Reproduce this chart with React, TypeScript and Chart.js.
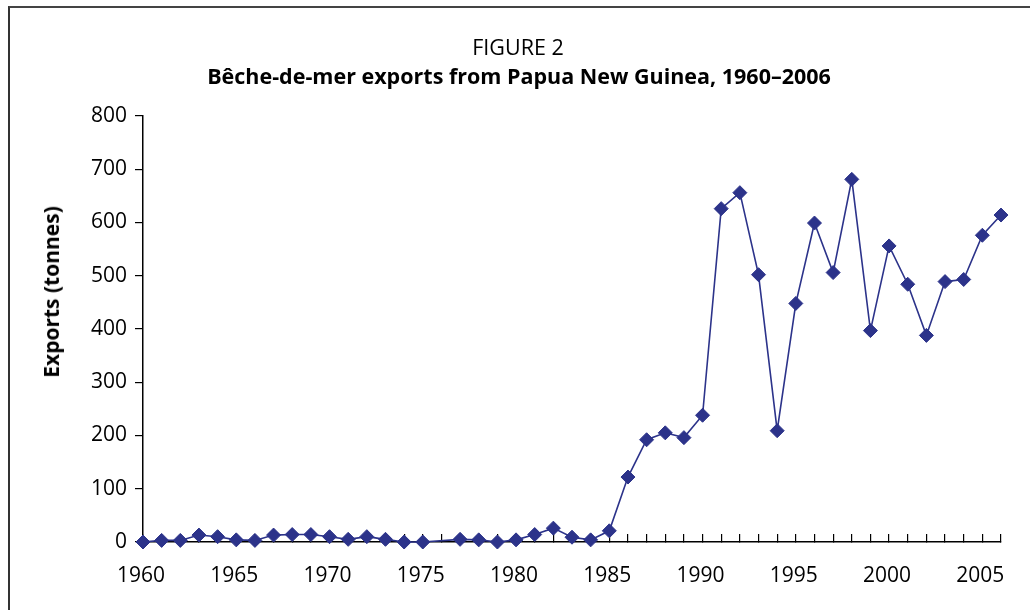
import React, { useEffect, useRef } from 'react';
import { Chart, registerables } from 'chart.js';

Chart.register(...registerables);

const years = [
  1960, 1961, 1962, 1963, 1964, 1965, 1966, 1967, 1968, 1969, 1970, 1971, 1972, 1973, 1974, 1975,
  1977, 1978, 1979, 1980, 1981, 1982, 1983, 1984, 1985, 1986, 1987, 1988, 1989, 1990,
  1991, 1992, 1993, 1994, 1995, 1996, 1997, 1998, 1999, 2000, 2001, 2002, 2003, 2004, 2005, 2006,
];
const exportsTonnes = [
  0, 3, 3, 13, 10, 4, 3, 13, 14, 14, 10, 5, 10, 5, 0, 0,
  5, 4, 0, 4, 14, 26, 9, 4, 21, 122, 192, 205, 196, 238,
  626, 656, 502, 209, 448, 599, 506, 681, 397, 556, 484, 388, 489, 493, 576, 614,
];
const xLabelYears = [1960, 1965, 1970, 1975, 1980, 1985, 1990, 1995, 2000, 2005];

const figureLabel = 'FIGURE 2';
const chartTitle = 'Bêche-de-mer exports from Papua New Guinea, 1960–2006';
const yAxisTitle = 'Exports (tonnes)';

const NAVY = '#2c338a';
const FONT = '"Open Sans", "Noto Sans", sans-serif';

export default function App() {
  const ref = useRef<HTMLCanvasElement>(null);

  useEffect(() => {
    if (!ref.current) return;
    const chart = new Chart(ref.current, {
      type: 'line',
      data: {
        datasets: [
          {
            data: years.map((yr, i) => ({ x: yr, y: exportsTonnes[i] })),
            borderColor: NAVY,
            backgroundColor: NAVY,
            borderWidth: 1.6,
            pointStyle: 'rectRot',
            pointRadius: 7,
            pointBorderWidth: 1,
            pointBackgroundColor: NAVY,
            pointBorderColor: NAVY,
            tension: 0,
            clip: false as any,
          },
        ],
      },
      options: {
        animation: false,
        responsive: false,
        maintainAspectRatio: false,
        layout: { padding: { top: 116, right: 21, bottom: 28, left: 0 } },
        plugins: {
          legend: { display: false },
          tooltip: { enabled: false },
          title: { display: false },
        },
        scales: {
          x: {
            type: 'linear',
            min: 1960,
            max: 2006,
            grid: {
              display: true,
              drawOnChartArea: false,
              drawTicks: true,
              tickLength: -8,
              color: '#000',
              lineWidth: 1.2,
            },
            border: { color: '#000', width: 1.5 },
            ticks: {
              stepSize: 1,
              autoSkip: false,
              maxRotation: 0,
              minRotation: 0,
              padding: 29,
              labelOffset: -2,
              color: '#000',
              font: { family: FONT, size: 21 },
              callback: (v: any) => (xLabelYears.includes(Number(v)) ? String(v) : ''),
            },
            afterFit: (s: any) => {
              s.height = 40;
            },
          },
          y: {
            min: 0,
            max: 800,
            grid: {
              display: true,
              drawOnChartArea: false,
              drawTicks: true,
              tickLength: 8,
              color: '#000',
              lineWidth: 1.2,
            },
            border: { color: '#000', width: 1.5 },
            ticks: {
              stepSize: 100,
              padding: 8,
              color: '#000',
              font: { family: FONT, size: 21 },
            },
            afterFit: (s: any) => {
              s.width = 143;
            },
          },
        },
      },
    });
    return () => chart.destroy();
  }, []);

  return (
    <div
      style={{
        position: 'fixed',
        left: 0,
        top: 0,
        width: 1030,
        height: 610,
        background: '#fff',
        overflow: 'hidden',
        fontFamily: FONT,
        color: '#000',
      }}
    >
      <div
        style={{
          position: 'absolute',
          left: 8,
          top: 6,
          width: 1030,
          height: 620,
          borderTop: '2px solid #444',
          borderLeft: '2px solid #333',
        }}
      />
      <canvas ref={ref} width={1030} height={610} style={{ position: 'absolute', left: 0, top: 0 }} />
      <div
        style={{
          position: 'absolute',
          left: 0,
          top: 34,
          width: 1036,
          textAlign: 'center',
          fontSize: 21.5,
          lineHeight: '26px',
        }}
      >
        {figureLabel}
      </div>
      <div
        style={{
          position: 'absolute',
          left: 0,
          top: 63,
          width: 1038,
          textAlign: 'center',
          fontSize: 21.5,
          fontWeight: 700,
          lineHeight: '26px',
        }}
      >
        {chartTitle}
      </div>
      <div
        style={{
          position: 'absolute',
          left: 51,
          top: 292,
          transform: 'translate(-50%, -50%) rotate(-90deg)',
          whiteSpace: 'nowrap',
          fontSize: 21,
          fontWeight: 700,
          lineHeight: '26px',
        }}
      >
        {yAxisTitle}
      </div>
    </div>
  );
}
